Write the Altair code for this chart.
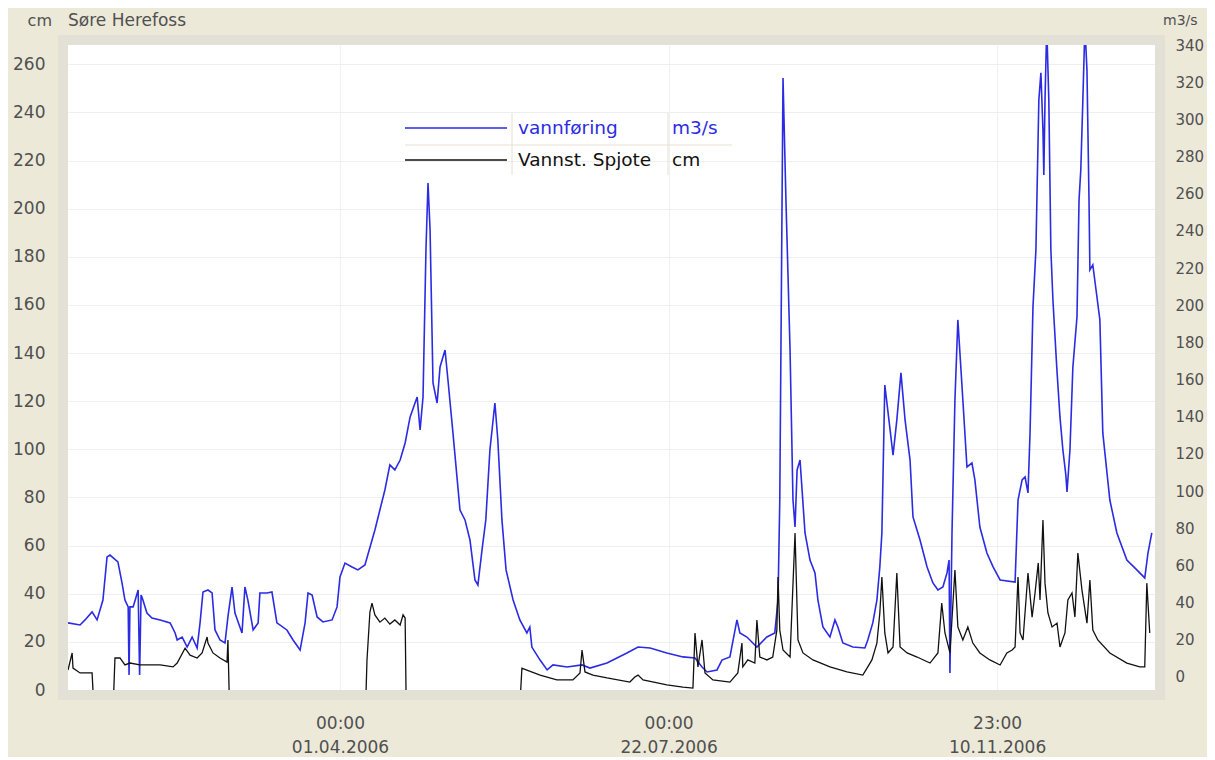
import altair as alt
import pandas as pd

# ---- data (days since 2006-01-01, values) ----
blue_day = [-2.7, 1.4, 3.1, 5.5, 7.2, 9.2, 10.6, 11.6, 14.3, 15.7,
            16.7, 17.8, 18.1, 18.4, 19.5, 21.2, 21.7, 22.2, 22.5, 24.2,
            25.9, 28.7, 32.1, 33.8, 34.5, 36.2, 37.9, 39.6, 41.3, 42.3,
            43.3, 45.0, 46.4, 47.4, 49.1, 50.8, 51.8, 53.2, 54.2, 56.6,
            57.6, 58.6, 60.4, 62.1, 62.7, 65.1, 66.8, 68.5, 71.9, 74.0,
            76.4, 78.1, 79.1, 80.5, 82.2, 84.2, 87.3, 89.0, 90.0, 91.7,
            94.1, 96.1, 98.5, 101.9, 105.3, 107.0, 108.7, 110.5, 112.2, 113.9,
            116.3, 117.3, 118.3, 119.3, 120.0, 120.7, 121.7, 123.1, 124.1, 125.8,
            126.8, 128.5, 130.9, 132.6, 134.3, 136.0, 137.0, 138.4, 139.7, 141.1,
            142.8, 143.8, 145.2, 146.6, 149.0, 151.3, 153.7, 154.7, 155.4, 158.2,
            160.6, 162.6, 167.4, 172.5, 175.2, 181.0, 187.8, 191.6, 195.7, 201.4,
            206.9, 211.0, 213.4, 215.1, 218.5, 220.2, 222.9, 225.3, 226.3, 228.7,
            232.1, 235.5, 238.2, 239.3, 239.9, 241.0, 242.0, 243.4, 244.4, 245.1,
            245.8, 246.8, 248.5, 250.2, 251.9, 252.9, 254.6, 257.0, 258.7, 259.7,
            261.4, 264.8, 268.9, 269.9, 271.6, 273.0, 274.0, 274.7, 275.7, 277.1,
            278.5, 279.8, 281.2, 282.6, 284.3, 285.3, 287.7, 290.1, 292.1, 293.8,
            295.5, 296.9, 297.6, 297.9, 298.6, 299.6, 300.6, 302.3, 303.7, 305.4,
            306.4, 308.1, 310.5, 312.6, 315.0, 320.1, 321.1, 322.5, 323.5, 324.5,
            325.2, 326.2, 327.2, 328.2, 328.9, 329.6, 329.9, 330.3, 330.9, 331.6,
            332.3, 333.0, 334.3, 335.4, 336.4, 337.4, 337.8, 338.8, 339.8, 341.2,
            341.9, 342.5, 343.2, 343.9, 344.6, 345.3, 345.6, 346.6, 347.7, 349.0,
            350.0, 352.4, 354.8, 358.2, 361.6, 364.3, 365.4, 366.7]
blue_val = [29.1, 28.0, 30.7, 35.0, 30.7, 41.4, 64.6, 65.6, 61.9, 50.6,
            41.4, 37.7, 1.1, 37.7, 37.7, 46.8, 1.1, 44.1, 43.0, 34.4,
            31.7, 30.7, 29.1, 23.7, 19.9, 21.5, 16.1, 21.5, 15.6, 29.1,
            45.7, 46.8, 45.2, 25.3, 19.9, 18.3, 32.3, 48.4, 34.4, 23.7,
            48.4, 41.4, 25.3, 29.1, 45.2, 45.2, 45.7, 29.1, 25.3, 19.9,
            14.5, 29.1, 45.2, 44.1, 32.3, 29.6, 30.7, 37.7, 53.8, 61.3,
            59.2, 57.6, 60.3, 79.1, 100.6, 114.1, 111.4, 116.7, 125.9, 139.9,
            150.6, 132.9, 150.6, 229.7, 265.8, 240.5, 158.2, 147.4, 166.8, 175.9,
            159.8, 131.3, 89.8, 84.5, 73.7, 52.2, 49.5, 68.3, 84.5, 122.1,
            147.4, 127.5, 84.5, 57.6, 41.4, 30.7, 23.7, 26.9, 16.1, 9.1,
            3.8, 6.5, 5.4, 6.5, 4.8, 7.5, 12.9, 16.1, 15.6, 12.9,
            10.8, 10.2, 5.4, 2.7, 3.8, 9.1, 10.8, 30.7, 23.7, 21.5,
            16.1, 21.5, 23.7, 41.4, 95.2, 322.3, 256.6, 175.9, 95.2, 80.7,
            111.4, 116.7, 77.5, 62.9, 56.0, 41.4, 26.9, 21.5, 30.7, 26.9,
            18.3, 16.1, 15.6, 19.9, 29.1, 41.4, 59.2, 77.5, 157.1, 138.3,
            119.4, 138.3, 163.6, 138.3, 116.7, 86.1, 73.7, 59.2, 50.6, 46.8,
            48.4, 56.0, 62.9, 2.2, 77.5, 149.0, 192.1, 149.0, 113.0, 115.1,
            106.0, 80.7, 66.7, 59.2, 52.2, 51.1, 95.2, 106.0, 107.6, 99.0,
            131.3, 199.1, 229.7, 310.4, 325.0, 294.3, 270.1, 310.4, 350.0, 310.4,
            229.7, 202.8, 166.8, 139.9, 122.1, 108.7, 99.5, 122.1, 166.8, 193.7,
            256.6, 272.8, 310.4, 350.0, 326.6, 256.6, 219.0, 221.7, 208.2, 192.1,
            131.3, 95.2, 77.5, 62.9, 57.6, 53.3, 66.7, 77.5]

# None marks a gap in the water-level record
black_day = [-2.7, -1.3, -1.0, 1.4, 5.5, 5.8, 9.0, 12.9, 13.3, 15.0, 16.7,
             18.4, 21.8, 28.7, 33.1, 34.5, 37.2, 38.9, 41.3, 43.0, 44.7,
             45.0, 46.7, 49.1, 51.5, 51.8, 52.2, 75.0, 98.9, 99.2, 100.2, 100.9,
             101.9, 103.6, 105.3, 107.0, 108.7, 110.5, 111.5, 112.2, 112.5, 130.0, 151.6,
             152.0, 153.7, 158.2, 163.9, 169.4, 171.8, 172.5, 173.5, 176.2, 181.0,
             188.8, 190.5, 191.6, 193.3, 201.4, 206.9, 210.3, 211.0, 212.0, 213.4,
             214.4, 217.1, 222.9, 225.6, 227.0, 227.3, 229.0, 231.4, 232.1, 233.1,
             235.5, 237.5, 238.9, 239.3, 239.9, 241.0, 243.4, 245.1, 246.1, 247.8,
             251.2, 257.0, 262.8, 268.2, 269.9, 271.3, 273.0, 274.0, 274.7, 275.7,
             276.8, 278.5, 279.8, 280.9, 283.3, 286.7, 291.1, 293.8, 295.1, 296.2,
             297.9, 299.6, 300.6, 302.3, 304.0, 305.7, 308.1, 311.5, 315.0, 317.3,
             319.1, 320.1, 321.1, 321.8, 322.8, 324.5, 325.9, 326.9, 328.0, 328.6,
             329.6, 330.3, 331.3, 332.7, 334.4, 335.4, 337.1, 338.1, 339.5, 340.5,
             341.5, 342.9, 344.6, 345.6, 346.6, 348.3, 352.4, 358.2, 362.6, 364.3,
             365.0, 366.0]
black_val = [8.3, 15.4, 9.1, 7.1, 7.1, 0.0, None, 0.0, 13.3, 13.3, 10.4,
             11.2, 10.4, 10.4, 9.6, 11.2, 17.4, 14.5, 13.3, 15.4, 22.0,
             19.5, 15.4, 13.3, 11.6, 20.8, 0.0, None, 0.0, 12.5, 32.4, 36.1,
             31.2, 28.2, 29.9, 27.4, 29.1, 27.0, 31.2, 29.9, 0.0, None, 0.0,
             9.1, 8.3, 6.2, 4.2, 4.2, 7.1, 16.6, 7.5, 6.2, 5.0,
             3.3, 5.4, 6.2, 4.2, 2.1, 1.2, 0.8, 23.7, 9.6, 20.8,
             7.1, 4.2, 3.3, 7.1, 19.5, 9.6, 12.5, 11.2, 29.1, 13.7,
             12.5, 13.7, 24.9, 46.9, 24.9, 16.6, 13.7, 65.2, 20.8, 15.4,
             12.5, 9.6, 7.5, 6.2, 9.6, 12.5, 19.5, 32.0, 46.9, 23.7,
             15.4, 17.9, 48.6, 17.9, 15.4, 13.7, 11.2, 15.4, 36.1, 23.7,
             15.4, 49.8, 26.2, 20.8, 26.2, 19.5, 15.4, 12.5, 10.4, 15.4,
             16.6, 17.9, 46.9, 23.7, 20.8, 48.6, 30.3, 40.3, 52.8, 37.4,
             70.6, 44.4, 32.0, 26.2, 27.8, 17.9, 23.7, 37.4, 40.3, 30.3,
             56.9, 41.5, 27.8, 45.7, 24.9, 20.8, 15.4, 11.2, 9.6, 9.6,
             44.4, 23.7]

left_ticks = list(range(0, 261, 20))
right_ticks = list(range(0, 341, 20))
legend_names = ["vannføring", "Vannst. Spjote"]
legend_units = ["m3/s", "cm"]
legend_colors = ["#2b2be3", "#111111"]

base = pd.Timestamp("2006-01-01")


def to_df(days, vals):
    t = base + pd.to_timedelta(days, unit="D")
    return pd.DataFrame({"t": t.strftime("%Y-%m-%dT%H:%M:%S"),
                         "v": pd.Series(vals, dtype="float64")})


df_blue = to_df(blue_day, blue_val)
df_black = to_df(black_day, black_val)

W, H = 1087, 645
FONT = "DejaVu Sans"
LABEL_COLOR = "#505050"
BG = "#ece9d9"

x_dom = [alt.DateTime(year=2005, month=12, date=29, hours=7),
         alt.DateTime(year=2007, month=1, date=3, hours=19)]
x_vals = [alt.DateTime(year=2006, month=4, date=1, hours=0),
          alt.DateTime(year=2006, month=7, date=22, hours=0),
          alt.DateTime(year=2006, month=11, date=10, hours=23)]

x_enc = alt.X(
    "t:T",
    scale=alt.Scale(domain=x_dom),
    axis=alt.Axis(
        values=x_vals, title=None, grid=True, gridColor="#f0f0f0",
        domain=False, ticks=False, labelPadding=25, labelFontSize=17,
        labelLineHeight=24, labelFont=FONT, labelColor=LABEL_COLOR,
        labelFlush=False, labelOverlap=False,
        labelExpr="[timeFormat(datum.value, '%H:%M'), timeFormat(datum.value, '%d.%m.%Y')]",
    ),
)

black = alt.Chart(df_black).mark_line(color="#111111", strokeWidth=1.3, clip=True).encode(
    x=x_enc,
    y=alt.Y("v:Q", scale=alt.Scale(domain=[0, 268], nice=False, zero=False),
            axis=alt.Axis(orient="left", values=left_ticks, title=None, grid=True,
                          gridColor="#efefef", domain=False, ticks=False,
                          labelPadding=23, labelFontSize=17, labelFont=FONT,
                          labelColor=LABEL_COLOR)),
)

blue = alt.Chart(df_blue).mark_line(color="#2b2be3", strokeWidth=1.6, clip=True).encode(
    x=x_enc,
    y=alt.Y("v:Q", scale=alt.Scale(domain=[-7, 340], nice=False, zero=False),
            axis=alt.Axis(orient="right", values=right_ticks, title=None, grid=False,
                          domain=False, ticks=False, labelPadding=20, labelAlign="left",
                          labelFontSize=15, labelFont=FONT, labelColor=LABEL_COLOR)),
)

one = pd.DataFrame({"a": [0]})

frame = alt.Chart(one).mark_rect(fill=None, stroke="#e3e1d6", strokeWidth=10).encode(
    x=alt.value(-5), x2=alt.value(W + 5), y=alt.value(-5), y2=alt.value(H + 5)
)

layers = [blue, black, frame]

# legend table
sep_color = "#e4e0cf"
layers.append(alt.Chart(one).mark_rule(color=sep_color, strokeWidth=1).encode(
    x=alt.value(337), x2=alt.value(664), y=alt.value(100)))
for sx in (444, 600):
    layers.append(alt.Chart(one).mark_rule(color=sep_color, strokeWidth=1).encode(
        x=alt.value(sx), y=alt.value(68), y2=alt.value(130)))
for i, (nm, un, col) in enumerate(zip(legend_names, legend_units, legend_colors)):
    yy = 83 + 32 * i
    layers.append(alt.Chart(one).mark_rule(color=col, strokeWidth=1.5).encode(
        x=alt.value(337), x2=alt.value(439), y=alt.value(yy)))
    layers.append(alt.Chart(one).mark_text(align="left", baseline="middle", font=FONT,
                                           fontSize=18.5, color=col).encode(
        x=alt.value(450), y=alt.value(yy), text=alt.value(nm)))
    layers.append(alt.Chart(one).mark_text(align="left", baseline="middle", font=FONT,
                                           fontSize=18.5, color=col).encode(
        x=alt.value(604), y=alt.value(yy), text=alt.value(un)))

# titles
layers.append(alt.Chart(one).mark_text(align="right", baseline="middle", font=FONT,
                                       fontSize=16, color=LABEL_COLOR).encode(
    x=alt.value(-16), y=alt.value(-24), text=alt.value("cm")))
layers.append(alt.Chart(one).mark_text(align="left", baseline="middle", font=FONT,
                                       fontSize=17, color=LABEL_COLOR).encode(
    x=alt.value(0), y=alt.value(-24), text=alt.value("Søre Herefoss")))
layers.append(alt.Chart(one).mark_text(align="left", baseline="middle", font=FONT,
                                       fontSize=14, color=LABEL_COLOR).encode(
    x=alt.value(1095), y=alt.value(-24), text=alt.value("m3/s")))

chart = alt.layer(*layers).resolve_scale(y="independent").properties(
    width=W, height=H,
    autosize=alt.AutoSizeParams(type="none"),
    padding={"left": 60, "top": 37, "right": 52, "bottom": 67},
    background=BG,
).configure_view(fill="white", stroke=None)

chart.save("out.html", embed_options={"renderer": "svg", "actions": False})
